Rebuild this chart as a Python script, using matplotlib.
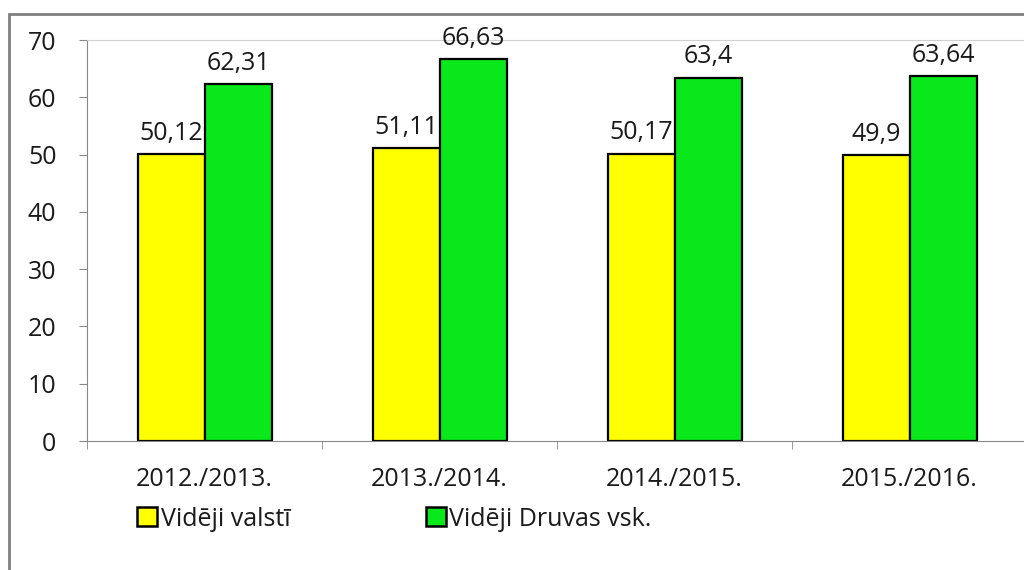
import numpy as np
import matplotlib.pyplot as plt
from matplotlib.patches import Rectangle

# data
years = ['2012./2013.', '2013./2014.', '2014./2015.', '2015./2016.']
valsti = [50.12, 51.11, 50.17, 49.9]
druvas = [62.31, 66.63, 63.4, 63.64]
valsti_lbl = ['50,12', '51,11', '50,17', '49,9']
druvas_lbl = ['62,31', '66,63', '63,4', '63,64']

plt.rcParams['font.family'] = ['Open Sans', 'DejaVu Sans']

fig = plt.figure(figsize=(10.24, 5.7), dpi=100)
ax = fig.add_axes([0.085, 0.2263, 0.918, 0.7035])

x = np.arange(len(years))
w = 0.285
b1 = ax.bar(x - w/2, valsti, w, color='#FFFF00', edgecolor='black', linewidth=1.6, label='Vidēji valstī')
b2 = ax.bar(x + w/2, druvas, w, color='#08E81A', edgecolor='black', linewidth=1.6, label='Vidēji Druvas vsk.')
ax.bar_label(b1, labels=valsti_lbl, padding=6, fontsize=18, color='#1a1a1a')
ax.bar_label(b2, labels=druvas_lbl, padding=6, fontsize=18, color='#1a1a1a')

ax.set_xlim(-0.5, 3.5)
ax.set_ylim(0, 70)
ax.set_yticks(range(0, 71, 10))
ax.tick_params(axis='y', labelsize=18, length=6, color='#888888', pad=16, labelcolor='#1a1a1a')
ax.set_xticks(x)
ax.set_xticklabels(years, fontsize=18, color='#1a1a1a')
ax.tick_params(axis='x', length=0, pad=19)
ax.set_xticks(np.arange(-0.5, 4.0, 1.0), minor=True)
ax.tick_params(axis='x', which='minor', length=6, color='#888888')

ax.spines['right'].set_visible(False)
ax.spines['top'].set_color('#d0d0d0')
ax.spines['left'].set_color('#888888')
ax.spines['bottom'].set_color('#888888')

leg = fig.legend(loc='lower left', bbox_to_anchor=(0.112, 0.028), ncol=2, frameon=False,
                 fontsize=18, handlelength=0.8, handleheight=0.8, handletextpad=0.15,
                 columnspacing=5.4, labelcolor='#1a1a1a')
for h in leg.legend_handles:
    h.set_linewidth(1.8)

# outer chart frame
fig.patches.append(Rectangle((9/1024, -0.1), 1.1, 1 - 14/570 + 0.1, transform=fig.transFigure,
                             fill=False, edgecolor='#808080', linewidth=2))

fig.savefig('out.png', dpi=100)
